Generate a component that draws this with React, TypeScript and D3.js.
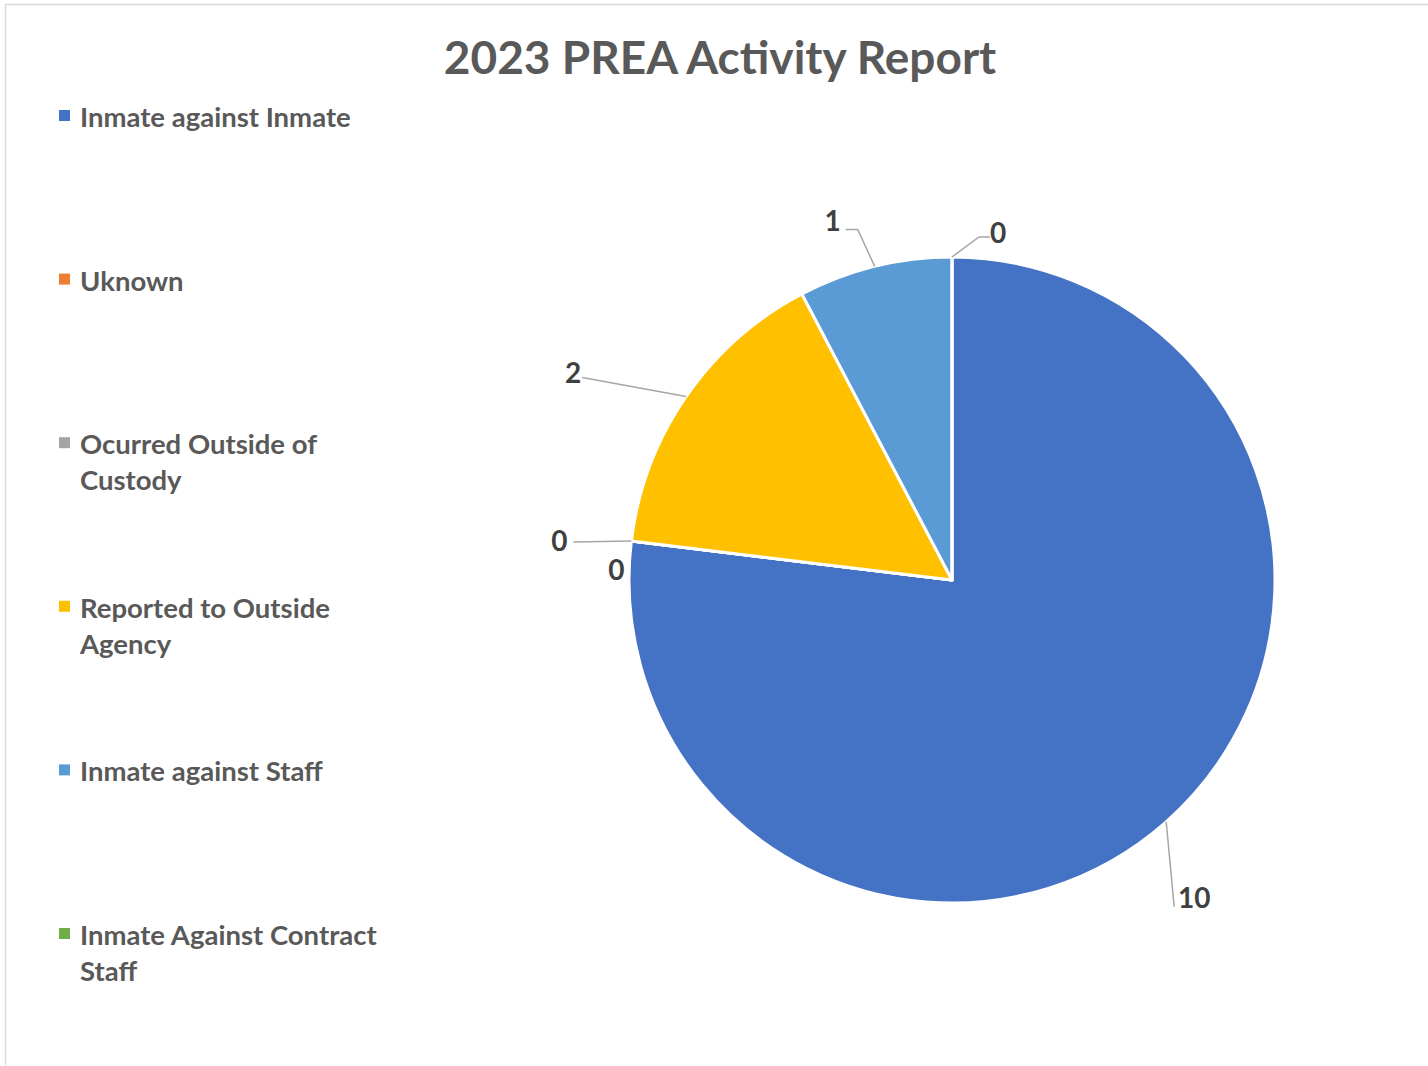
import { useEffect, useRef } from 'react';
import * as d3 from 'd3';

const title = "2023 PREA Activity Report";

const categories = [
  "Inmate against Inmate",
  "Uknown",
  "Ocurred Outside of Custody",
  "Reported to Outside Agency",
  "Inmate against Staff",
  "Inmate Against Contract Staff",
];

const counts = [10, 0, 0, 2, 1, 0];

const colors = ["#4472C4", "#ED7D31", "#A5A5A5", "#FFC000", "#5B9BD5", "#70AD47"];

// leader line layout for each data label, relative to the point on the pie edge
const labelLayout: { leg: [number, number] | null; tail: number; text: [number, number] }[] = [
  { leg: [8, 85], tail: 0, text: [20, -10] },
  { leg: null, tail: 0, text: [-15, 28] },
  { leg: [-58, 1], tail: 0, text: [-14, -2] },
  { leg: [-104, -19], tail: 0, text: [-9, -6] },
  { leg: [-17, -37], tail: -12, text: [-13, -9] },
  { leg: [27, -20], tail: 11, text: [8, -5] },
];

const W = 1428;
const H = 1066;
const FONT = "Lato, 'Open Sans', sans-serif";

function wrap(label: string, maxChars: number) {
  const words = label.split(" ");
  const lines: string[] = [];
  let cur = "";
  words.forEach(w => {
    const next = cur ? cur + " " + w : w;
    if (next.length > maxChars && cur) {
      lines.push(cur);
      cur = w;
    } else {
      cur = next;
    }
  });
  if (cur) lines.push(cur);
  return lines;
}

export default function App() {
  const svgRef = useRef<SVGSVGElement>(null);

  useEffect(() => {
    if (!svgRef.current) return;
    const svg = d3.select(svgRef.current);
    svg.selectAll("*").remove();

    svg.append("rect")
      .attr("width", W)
      .attr("height", H)
      .style("fill", "#ffffff");

    // chart area border (only top and left show in the crop)
    svg.append("line")
      .attr("x1", 5).attr("x2", W)
      .attr("y1", 4.5).attr("y2", 4.5)
      .style("stroke", "#d9d9d9").style("stroke-width", 1.5);
    svg.append("line")
      .attr("x1", 5.5).attr("x2", 5.5)
      .attr("y1", 4).attr("y2", 1065)
      .style("stroke", "#d9d9d9").style("stroke-width", 1.5);

    svg.append("text")
      .attr("x", 720)
      .attr("y", 74)
      .attr("text-anchor", "middle")
      .style("font-family", FONT)
      .style("font-weight", 700)
      .style("font-size", "46px")
      .style("fill", "#595959")
      .text(title);

    // legend
    const legendY = d3.scalePoint<string>()
      .domain(categories)
      .range([116, 934]);

    const legend = svg.append("g");
    categories.forEach((name, i) => {
      const y = legendY(name)!;
      legend.append("rect")
        .attr("x", 59)
        .attr("y", y - 6)
        .attr("width", 11)
        .attr("height", 11)
        .style("fill", colors[i]);
      const lines = wrap(name, 23);
      const t = legend.append("text")
        .attr("x", 80)
        .attr("y", y)
        .attr("dominant-baseline", "central")
        .style("font-family", FONT)
        .style("font-weight", 700)
        .style("font-size", "27.5px")
        .style("fill", "#595959");
      lines.forEach((ln, j) => {
        t.append("tspan")
          .attr("x", 80)
          .attr("y", y + j * 36)
          .text(ln);
      });
    });

    // pie
    const cx = 952;
    const cy = 580;
    const r = 323;

    const pie = d3.pie<number>()
      .sort(null)
      .value(d => d);
    const arcs = pie(counts);
    const arc = d3.arc<d3.PieArcDatum<number>>()
      .innerRadius(0)
      .outerRadius(r);

    const g = svg.append("g").attr("transform", `translate(${cx},${cy})`);

    g.selectAll("path.slice")
      .data(arcs)
      .enter()
      .append("path")
      .attr("class", "slice")
      .attr("d", arc)
      .style("fill", (_d, i) => colors[i])
      .style("stroke", "#ffffff")
      .style("stroke-width", 3)
      .style("stroke-linejoin", "round");

    // data labels with leader lines
    arcs.forEach((a, i) => {
      const mid = (a.startAngle + a.endAngle) / 2;
      const ex = r * Math.sin(mid);
      const ey = -r * Math.cos(mid);
      const lay = labelLayout[i];
      let px = ex;
      let py = ey;
      if (lay.leg) {
        const pts: [number, number][] = [[ex, ey]];
        px = ex + lay.leg[0];
        py = ey + lay.leg[1];
        pts.push([px, py]);
        if (lay.tail) {
          px += lay.tail;
          pts.push([px, py]);
        }
        g.append("path")
          .attr("d", d3.line()(pts))
          .style("fill", "none")
          .style("stroke", "#a6a6a6")
          .style("stroke-width", 1.5);
      }
      g.append("text")
        .attr("x", px + lay.text[0])
        .attr("y", py + lay.text[1])
        .attr("text-anchor", "middle")
        .attr("dominant-baseline", "central")
        .style("font-family", FONT)
        .style("font-weight", 700)
        .style("font-size", "28px")
        .style("fill", "#404040")
        .text(String(a.data));
    });
  }, []);

  return (
    <div style={{ position: "absolute", left: 0, top: 0 }}>
      <svg ref={svgRef} width={W} height={H} style={{ display: "block" }} />
    </div>
  );
}
